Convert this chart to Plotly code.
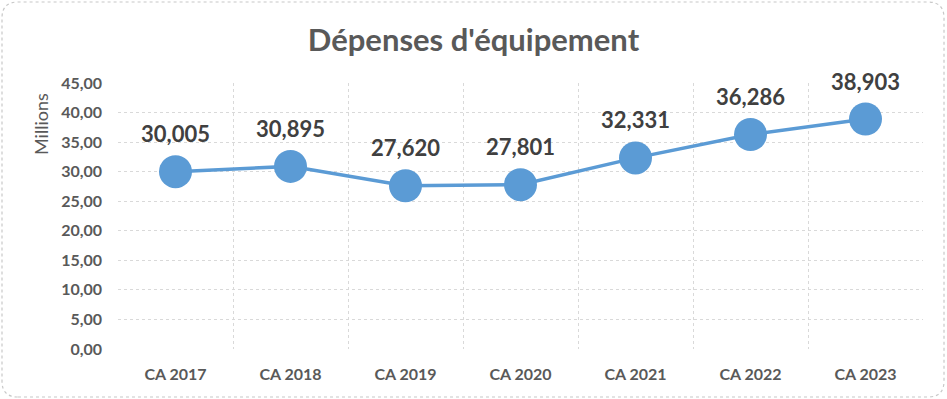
import plotly.graph_objects as go

categories = ["CA 2017", "CA 2018", "CA 2019", "CA 2020", "CA 2021", "CA 2022", "CA 2023"]
values = [30.005, 30.895, 27.620, 27.801, 32.331, 36.286, 38.903]
y_ticks = [0, 5, 10, 15, 20, 25, 30, 35, 40, 45]

title = "Dépenses d'équipement"
y_title = "Millions"
line_color = "#5B9BD5"
text_color = "#595959"
label_color = "#404040"
font_family = "Lato, 'Open Sans', sans-serif"

fig = go.Figure()
fig.add_trace(go.Scatter(
    x=categories, y=values, mode="lines+markers",
    line=dict(color=line_color, width=3.5),
    marker=dict(color=line_color, size=33),
    hoverinfo="skip", showlegend=False,
))

for c, v in zip(categories, values):
    fig.add_annotation(
        x=c, y=v, text=f"{v:.3f}".replace(".", ","),
        showarrow=False, yshift=38,
        font=dict(family=font_family, size=22, color=label_color, weight="bold"),
    )

# y-axis title placed near the top, as in the reference
fig.add_annotation(
    text=y_title, xref="paper", yref="paper", x=0, y=1,
    xanchor="center", yanchor="middle",
    xshift=-77, yshift=-41, textangle=-90, showarrow=False,
    font=dict(family=font_family, size=18, color=text_color),
)

# rounded border around the whole chart (pixel-sized, anchored to the plot origin)
L, R, B, T, r = -116, 826, -48, 347, 16
path = (f"M {L+r},{B} L {R-r},{B} Q {R},{B} {R},{B+r} L {R},{T-r} Q {R},{T} {R-r},{T} "
        f"L {L+r},{T} Q {L},{T} {L},{T-r} L {L},{B+r} Q {L},{B} {L+r},{B} Z")
fig.add_shape(type="path", xref="paper", yref="paper",
              xsizemode="pixel", ysizemode="pixel", xanchor=0, yanchor=0,
              path=path, line=dict(color="#C8C8C8", width=1.2, dash="dot"),
              layer="below")

fig.update_layout(
    width=947, height=399,
    margin=dict(l=118, r=24, t=83, b=50),
    paper_bgcolor="white", plot_bgcolor="white",
    separators=", ",
    title=dict(text=title, x=0.5, xanchor="center", y=0.9, yanchor="middle",
               font=dict(family=font_family, size=31, color=text_color, weight="bold")),
    xaxis=dict(
        type="category", tickson="boundaries", showgrid=True,
        gridcolor="#D9D9D9", griddash="dot", gridwidth=1,
        showline=False, zeroline=False, ticks="",
        tickfont=dict(family=font_family, size=16, color=text_color, weight="bold"),
        ticklabelstandoff=14,
        range=[-0.5, 6.5],
    ),
    yaxis=dict(
        range=[0, 45], tickvals=y_ticks, tickformat=".2f",
        showgrid=True, gridcolor="#D9D9D9", griddash="dot", gridwidth=1,
        zeroline=False, showline=False, ticks="",
        tickfont=dict(family=font_family, size=16, color=text_color, weight="bold"),
        ticklabelstandoff=15,
    ),
)

fig.write_html("out.html", config={"displayModeBar": False},
               post_script="document.body.style.margin='0';")
